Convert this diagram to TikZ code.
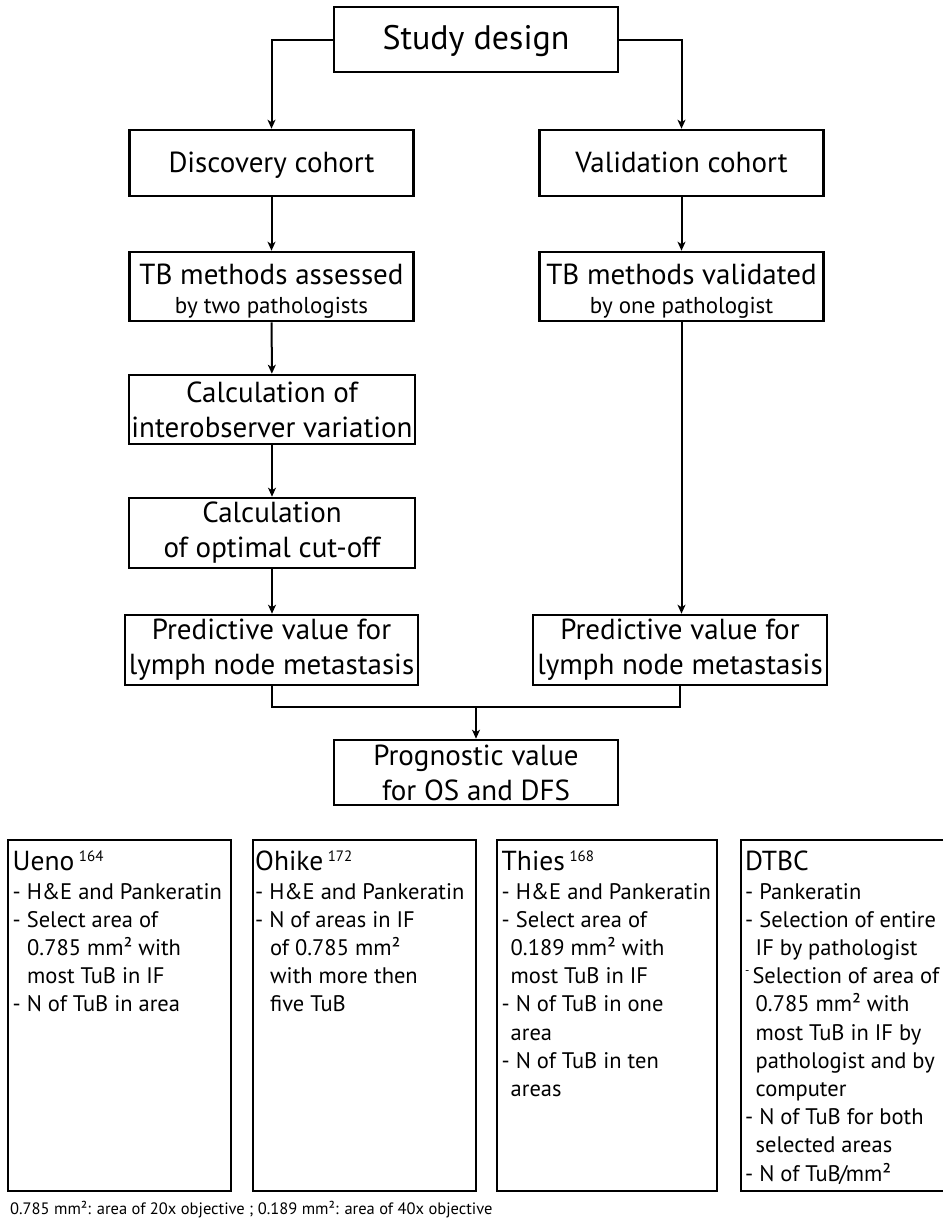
\documentclass[tikz,border=0pt]{standalone}
\usepackage{fontspec}
\setmainfont{PT Sans}
\usetikzlibrary{arrows.meta}
\newcommand{\myfs}[2]{\fontsize{#1}{#2}\selectfont}
\begin{document}
\begin{tikzpicture}[x=1pt,y=-1pt,
  flowbox/.style={draw, line width=2.6pt, inner sep=0pt, align=center,
    minimum width=284pt, minimum height=66pt, font=\myfs{29}{35}},
  onebox/.style={flowbox, text height=22pt, text depth=4pt},
  arr/.style={line width=2pt, -{Stealth[length=9pt,width=8pt,inset=2.5pt]}},
  conn/.style={line width=2pt},
  obox/.style={draw, line width=2.6pt, inner sep=0pt},
  btext/.style={anchor=north west, inner sep=0pt, align=left, font=\myfs{22.5}{28.2}}]
\useasboundingbox (0,0) rectangle (943,1221);
% flowchart
\node[onebox, font=\myfs{34}{40}, minimum height=65pt, text height=25pt, text depth=5pt] (sd) at (476,39.5) {Study design};
\node[onebox] (disc) at (271.5,163) {Discovery cohort};
\node[onebox] (val) at (681.5,163) {Validation cohort};
\node[flowbox, minimum height=69pt] (tba) at (271.5,286.5) {\rule{0pt}{29pt}TB methods assessed\\[-6pt]{\myfs{23}{27}by two pathologists}};
\node[flowbox, minimum height=69pt] (tbv) at (681.5,286.5) {\rule{0pt}{29pt}TB methods validated\\[-6pt]{\myfs{23}{27}by one pathologist}};
\node[flowbox, minimum width=286pt, minimum height=69pt] (calc1) at (272,409.5) {Calculation of\\interobserver variation};
\node[flowbox, minimum width=286pt, minimum height=70pt] (calc2) at (272,533) {Calculation\\of optimal cut-off};
\node[flowbox, minimum width=293pt, minimum height=70pt] (predl) at (271.5,650) {Predictive value for\\lymph node metastasis};
\node[flowbox, minimum width=294pt, minimum height=70pt] (predr) at (680,650) {Predictive value for\\lymph node metastasis};
\node[flowbox, minimum height=65pt] (prog) at (476,772.5) {Prognostic value\\for OS and DFS};
% connectors
\draw[arr] (sd.west) -| (disc.north);
\draw[arr] (sd.east) -| (val.north);
\draw[arr] (disc) -- (tba);
\draw[arr] (val) -- (tbv);
\draw[arr] (tba) -- (calc1);
\draw[arr] (calc1) -- (calc2);
\draw[arr] (calc2) -- (calc2.south |- predl.north);
\draw[arr] (tbv.south) -- (tbv.south |- predr.north);
\coordinate (mj) at (476,707);
\draw[conn] (predl.south) |- (mj) -| (predr.south);
\draw[arr] (mj) -- (prog.north);
% bottom boxes
\node[obox, minimum width=223pt, minimum height=351pt] (ueno) at (119.5,1015.5) {};
\node[obox, minimum width=223pt, minimum height=351pt] (ohike) at (364.5,1015.5) {};
\node[obox, minimum width=220pt, minimum height=351pt] (thies) at (607,1015.5) {};
\draw[line width=2.6pt] (943,840) -| (741,1191) -- (943,1191);
\node[btext] (uenot) at (12.5,848.7) {\rule{0pt}{22pt}{\myfs{27.5}{28.2}Ueno\,\raisebox{9pt}{\myfs{15}{15}164}}\\
- H\&E and Pankeratin\\
- Select area of\\
\hspace*{14.5pt}0.785 mm² with\\
\hspace*{14.5pt}most TuB in IF\\
- N of TuB in area};
\node[btext] (ohiket) at (255,848.7) {\rule{0pt}{22pt}{\myfs{27.5}{28.2}Ohike\,\raisebox{9pt}{\myfs{15}{15}172}}\\
- H\&E and Pankeratin\\
- N of areas in IF\\
\hspace*{15pt}of 0.785 mm²\\
\hspace*{15pt}with more then\\
\hspace*{15pt}five TuB};
\node[btext] (thiest) at (501.5,848.7) {\rule{0pt}{22pt}{\myfs{27.5}{28.2}Thies\,\raisebox{9pt}{\myfs{15}{15}168}}\\
- H\&E and Pankeratin\\
- Select area of\\
\hspace*{9pt}0.189 mm² with\\
\hspace*{9pt}most TuB in IF\\
- N of TuB in one\\
\hspace*{9pt}area\\
- N of TuB in ten\\
\hspace*{9pt}areas};
\node[btext] (dtbct) at (745,848.7) {\rule{0pt}{22pt}{\myfs{27.5}{28.2}DTBC}\\
- Pankeratin\\
- Selection of entire\\
\hspace*{10.5pt}IF by pathologist\\
\raisebox{9pt}{\myfs{12}{12}-}\hspace{3pt}Selection of area of\\
\hspace*{10.5pt}0.785 mm² with\\
\hspace*{10.5pt}most TuB in IF by\\
\hspace*{10.5pt}pathologist and by\\
\hspace*{10.5pt}computer\\
- N of TuB for both\\
\hspace*{10.5pt}selected areas\\
- N of TuB\kern-1.5pt/\kern-1.5pt mm²};
\node[anchor=base west, inner sep=0pt, font=\myfs{16.5}{19}] (foot) at (10,1214) {0.785 mm²: area of 20x objective ; 0.189 mm²: area of 40x objective};
\end{tikzpicture}
\end{document}
